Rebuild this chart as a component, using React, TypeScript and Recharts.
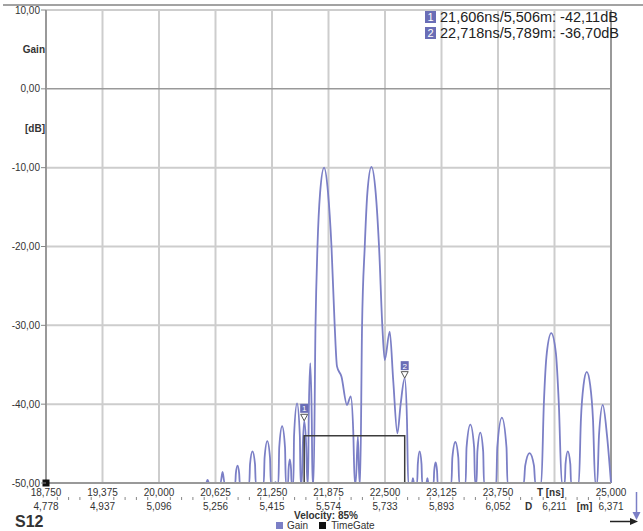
import React from 'react';
import { LineChart, Line, XAxis, YAxis, CartesianGrid, ReferenceLine, ReferenceDot } from 'recharts';

const FONT = '"Liberation Sans", Arial, sans-serif';

const timeTicks = [18.75, 19.375, 20.0, 20.625, 21.25, 21.875, 22.5, 23.125, 23.75, 24.375, 25.0];
const timeLabels = ['18,750', '19,375', '20,000', '20,625', '21,250', '21,875', '22,500', '23,125', '23,750', 'T [ns]', '25,000'];
const distLabels = ['4,778', '4,937', '5,096', '5,256', '5,415', '5,574', '5,733', '5,893', '6,052', '6,211', '6,371'];

const gainTicks = [10, 5, 0, -5, -10, -20, -30, -40, -50];
const gainLabels = ['10,00', 'Gain', '0,00', '[dB]', '-10,00', '-20,00', '-30,00', '-40,00', '-50,00'];
const gridLevels = [10, -10, -20, -30, -40];

// Gain trace [ns, dB] (display floor is -50 dB)
const gainTrace: [number, number][] = [
  [18.75, -50],
  [20.521, -50], [20.537, -49.6], [20.554, -50],
  [20.681, -50], [20.703, -48.6], [20.725, -50],
  [20.844, -50], [20.850, -48.8], [20.869, -47.8], [20.887, -48.8], [20.893, -50],
  [20.999, -50], [21.007, -47.6], [21.034, -46.0], [21.062, -47.6], [21.070, -50],
  [21.159, -50], [21.168, -46.8], [21.198, -44.7], [21.228, -46.8], [21.237, -50],
  [21.280, -50], [21.289, -49.9], [21.297, -50],
  [21.321, -50], [21.330, -45.5], [21.362, -42.8], [21.394, -45.5], [21.403, -50],
  [21.428, -50], [21.433, -48.3], [21.447, -47.0], [21.461, -48.3], [21.466, -50],
  [21.487, -50], [21.494, -44.0], [21.527, -39.9], [21.558, -44.0], [21.566, -50],
  [21.579, -50], [21.590, -45.5], [21.606, -42.11], [21.629, -45.5], [21.641, -50],
  [21.649, -50], [21.656, -42.0], [21.673, -34.8], [21.690, -42.0], [21.698, -50],
  [21.710, -50], [21.731, -30.2], [21.753, -20.0], [21.782, -13.2], [21.826, -10.0], [21.870, -13.2],
  [21.908, -20.0], [21.944, -30.2], [21.969, -35.2], [22.018, -36.5], [22.080, -40.1], [22.121, -39.0],
  [22.149, -43.5], [22.165, -50],
  [22.176, -50], [22.200, -44.1], [22.218, -50],
  [22.225, -50], [22.246, -30.2], [22.276, -20.0], [22.305, -13.2], [22.350, -9.9], [22.397, -13.2],
  [22.434, -20.0], [22.471, -30.2], [22.497, -34.4], [22.552, -30.8], [22.591, -37.0], [22.637, -43.7],
  [22.673, -40.0], [22.718, -36.7], [22.743, -42.0], [22.757, -50],
  [22.798, -50], [22.809, -49.4], [22.820, -50],
  [22.856, -50], [22.863, -47.6], [22.883, -46.0], [22.904, -47.6], [22.911, -50],
  [22.958, -50], [22.969, -49.4], [22.980, -50],
  [23.038, -50], [23.044, -48.5], [23.060, -47.4], [23.076, -48.5], [23.082, -50],
  [23.235, -50], [23.245, -46.8], [23.278, -44.8], [23.311, -46.8], [23.321, -50],
  [23.392, -50], [23.402, -45.5], [23.444, -42.6], [23.486, -45.5], [23.496, -50],
  [23.513, -50], [23.522, -46.0], [23.554, -43.6], [23.586, -46.0], [23.595, -50],
  [23.731, -50], [23.742, -45.5], [23.793, -41.7], [23.844, -45.5], [23.855, -50],
  [24.036, -50], [24.051, -47.8], [24.099, -46.2], [24.148, -47.8], [24.162, -50],
  [24.229, -50], [24.257, -40.0], [24.290, -33.5], [24.339, -31.0], [24.390, -33.5], [24.423, -40.0], [24.456, -50],
  [24.489, -50], [24.497, -47.6], [24.522, -46.0], [24.550, -47.6], [24.558, -50],
  [24.644, -50], [24.667, -42.0], [24.696, -37.6], [24.732, -35.9], [24.770, -37.6], [24.801, -42.0], [24.826, -50],
  [24.848, -50], [24.867, -44.0], [24.909, -40.1], [24.956, -44.0], [25.0, -50],
];

const gateTime = [18.75, 21.606, 21.606, 22.718, 22.718, 25.0];
const gateLevel = [-50, -50, -44, -44, -50, -50];

const markers = [
  { id: 1, t: 21.606, d: 5.506, db: -42.11 },
  { id: 2, t: 22.718, d: 5.789, db: -36.7 },
];

const gainData = gainTrace.map(([t, db]) => ({ t, db }));
const gateData = gateTime.map((t, i) => ({ t, db: gateLevel[i] }));

// major ticks plus 4 minor ticks between each pair
const xTicks = timeTicks.flatMap((v, i) =>
  i === timeTicks.length - 1 ? [v] : [0, 1, 2, 3, 4].map((k) => v + (k * 0.625) / 5)
);

const comma = (v: number, digits: number) => v.toFixed(digits).replace('.', ',');

const BLUE = '#7b7fc6';
const BOX = '#6a6db6';

const TimeTick = (props: any) => {
  const { x, y, payload } = props;
  const i = timeTicks.findIndex((v) => Math.abs(v - payload.value) < 1e-6);
  if (i < 0) {
    return <line x1={x} x2={x} y1={y + 14} y2={y + 17} stroke="#888" strokeWidth={1} />;
  }
  const isUnit = timeLabels[i] === 'T [ns]';
  return (
    <g fontFamily={FONT} fontSize={10} fill="#333">
      <text x={isUnit ? x - 4 : x} y={y + 12.5} textAnchor="middle" fontWeight={isUnit ? 'bold' : 'normal'}>
        {timeLabels[i]}
      </text>
      <text x={x} y={y + 26.5} textAnchor="middle">{distLabels[i]}</text>
      {isUnit && (
        <>
          <text x={x - 26} y={y + 26.5} textAnchor="middle" fontWeight="bold">D</text>
          <text x={x + 30} y={y + 26.5} textAnchor="middle" fontWeight="bold">[m]</text>
        </>
      )}
    </g>
  );
};

const GainTick = (props: any) => {
  const { x, y, payload } = props;
  const i = gainTicks.indexOf(payload.value);
  const label = gainLabels[i];
  const isName = label === 'Gain' || label === '[dB]';
  return (
    <g fontFamily={FONT} fontSize={10} fill="#333">
      {!isName && <line x1={x + 1} x2={x + 6} y1={y} y2={y} stroke="#888" strokeWidth={1} />}
      <text x={isName ? x + 5 : x} y={y} dy="0.35em" textAnchor="end" fontWeight={isName ? 'bold' : 'normal'}>
        {label}
      </text>
    </g>
  );
};

const markerShape = (id: number) => (props: any) => {
  const { cx, cy } = props;
  return (
    <g>
      <path d={`M${cx - 3.5},${cy - 6.5} L${cx + 3.5},${cy - 6.5} L${cx},${cy} Z`} fill="#fff" stroke="#555" strokeWidth={1} />
      <rect x={cx - 4} y={cy - 17} width={8} height={9} fill={BOX} />
      <text x={cx} y={cy - 9.5} textAnchor="middle" fontSize={8} fill="#fff" fontFamily={FONT}>
        {id}
      </text>
    </g>
  );
};

const gateDot = (props: any) => {
  const { cx, cy, index } = props;
  if (index !== 0) return <g key={`d${index}`} />;
  return <rect key="d0" x={cx - 3.5} y={cy - 3.5} width={7} height={7} fill="#111" />;
};

export default function App() {
  return (
    <div style={{ position: 'absolute', left: 0, top: 0, width: 643, height: 531, background: '#fff', overflow: 'hidden', fontFamily: FONT }}>
      <div style={{ position: 'absolute', left: 3, top: 4, width: 640, height: 1.5, background: '#a2a2a2' }} />
      <div style={{ position: 'absolute', left: 0, top: 0 }}>
        <LineChart width={643} height={531} margin={{ top: 10, right: 32, bottom: 8, left: 6 }}>
          <CartesianGrid
            stroke="#cdcdcd"
            strokeWidth={2}
            horizontalValues={gridLevels}
            verticalValues={timeTicks.slice(1, -1)}
          />
          <XAxis
            dataKey="t"
            type="number"
            domain={[18.75, 25]}
            ticks={xTicks}
            interval={0}
            height={40}
            tickSize={0}
            tickMargin={0}
            tickLine={false}
            axisLine={{ stroke: '#999', strokeWidth: 2 }}
            tick={<TimeTick />}
          />
          <YAxis
            type="number"
            domain={[-50, 10]}
            ticks={gainTicks}
            interval={0}
            width={40}
            tickSize={5}
            tickMargin={1}
            tickLine={false}
            axisLine={{ stroke: '#999', strokeWidth: 2 }}
            tick={<GainTick />}
          />
          <ReferenceLine y={0} stroke="#999" strokeWidth={1.5} />
          <ReferenceLine x={25} stroke="#999" strokeWidth={2} />
          <Line
            data={gainData}
            dataKey="db"
            name="Gain"
            type="monotone"
            stroke={BLUE}
            strokeWidth={1.8}
            dot={false}
            activeDot={false}
            isAnimationActive={false}
          />
          <Line
            data={gateData}
            dataKey="db"
            name="TimeGate"
            type="linear"
            stroke="#3c3c3c"
            strokeWidth={1.5}
            dot={gateDot}
            activeDot={false}
            isAnimationActive={false}
          />
          {markers.map((m) => (
            <ReferenceDot key={m.id} x={m.t} y={m.db} r={4} shape={markerShape(m.id)} />
          ))}
        </LineChart>
      </div>

      <div style={{ position: 'absolute', left: 425, top: 9, fontSize: 14.5, lineHeight: '16px', color: '#222', whiteSpace: 'nowrap' }}>
        {markers.map((m) => (
          <div key={m.id} style={{ display: 'flex', alignItems: 'center' }}>
            <span style={{ display: 'inline-block', width: 11, height: 12, background: BOX, color: '#fff', fontSize: 11, lineHeight: '12px', textAlign: 'center', marginRight: 4 }}>
              {m.id}
            </span>
            <span>{`${comma(m.t, 3)}ns/${comma(m.d, 3)}m: ${comma(m.db, 2)}dB`}</span>
          </div>
        ))}
      </div>

      <div style={{ position: 'absolute', left: 260, top: 511, width: 132, textAlign: 'center', fontSize: 10, fontWeight: 'bold', color: '#333', lineHeight: '9px' }}>
        Velocity: 85%
      </div>
      <div style={{ position: 'absolute', left: 15, top: 513, fontSize: 16, fontWeight: 'bold', color: '#333', lineHeight: '18px' }}>
        S12
      </div>
      <div style={{ position: 'absolute', left: 276, top: 521, display: 'flex', alignItems: 'center', fontSize: 10, color: '#333', lineHeight: '9px' }}>
        <span style={{ width: 7, height: 7, background: BLUE, marginRight: 4 }} />
        <span style={{ marginRight: 11 }}>Gain</span>
        <span style={{ width: 7, height: 7, background: '#111', marginRight: 5 }} />
        <span>TimeGate</span>
      </div>

      <svg width={643} height={531} style={{ position: 'absolute', left: 0, top: 0, pointerEvents: 'none' }}>
        <line x1={636.5} y1={492} x2={636.5} y2={514} stroke={BLUE} strokeWidth={1.5} />
        <path d="M632.5,512 L640.5,512 L636.5,520 Z" fill={BLUE} />
        <line x1={610} y1={521.5} x2={632} y2={521.5} stroke="#222" strokeWidth={1.5} />
        <path d="M630,518 L638,521.5 L630,525 Z" fill="#222" />
      </svg>
    </div>
  );
}
